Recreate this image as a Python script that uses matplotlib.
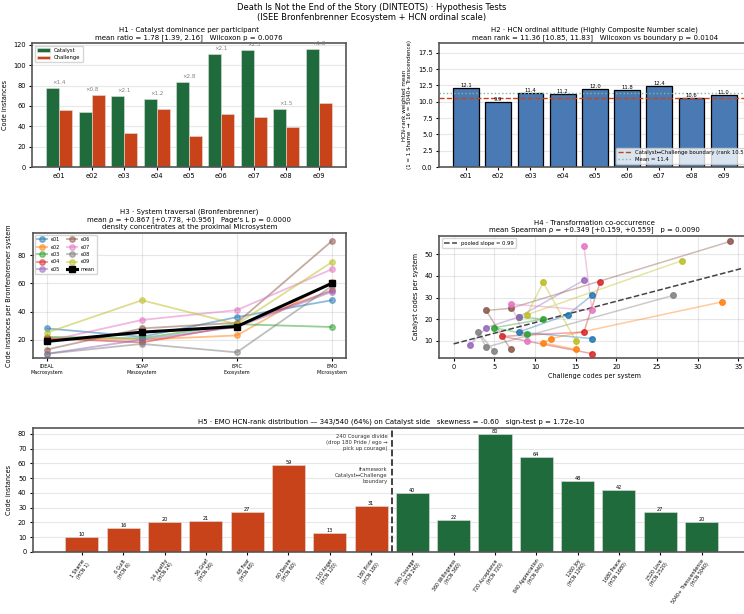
import numpy as np
import matplotlib
matplotlib.use('Agg')
from matplotlib import pyplot as plt

# participants and Bronfenbrenner systems
parts = ['e01', 'e02', 'e03', 'e04', 'e05', 'e06', 'e07', 'e08', 'e09']
systems = ['IDEAL\nMacrosystem', 'SOAP\nMesosystem', 'EPIC\nExosystem', 'EMO\nMicrosystem']

# codes per system (IDEAL, SOAP, EPIC, EMO) for each participant
cat_sys = np.array([
    [11, 14, 22, 31],
    [6, 9, 11, 28],
    [13, 16, 20, 21],
    [4, 12, 14, 37],
    [8, 16, 21, 38],
    [6, 24, 25, 56],
    [10, 27, 24, 54],
    [5, 14, 7, 31],
    [10, 37, 22, 47],
])
chal_sys = np.array([
    [17, 8, 14, 17],
    [15, 11, 12, 33],
    [9, 5, 11, 8],
    [17, 6, 16, 18],
    [2, 4, 8, 16],
    [7, 4, 7, 34],
    [9, 7, 17, 16],
    [5, 3, 4, 27],
    [15, 11, 9, 28],
])

# HCN weighted mean rank per participant
hcn_mean = [12.1, 9.9, 11.4, 11.2, 12.0, 11.8, 12.4, 10.6, 11.0]
boundary = 10.5

# EMO HCN-rank distribution
hcn_labels = ['1 Shame\n(HCN 1)', '6 Guilt\n(HCN 6)', '24 Apathy\n(HCN 24)', '36 Grief\n(HCN 36)',
              '48 Fear\n(HCN 48)', '60 Desire\n(HCN 60)', '120 Anger\n(HCN 120)', '180 Pride\n(HCN 180)',
              '240 Courage\n(HCN 240)', '360 Willingness\n(HCN 360)', '720 Acceptance\n(HCN 720)',
              '840 Appreciation\n(HCN 840)', '1260 Joy\n(HCN 1260)', '1680 Peace\n(HCN 1680)',
              '2520 Love\n(HCN 2520)', '5040+ Transcendence\n(HCN 5040)']
hcn_counts = [10, 16, 20, 21, 27, 59, 13, 31, 40, 22, 80, 64, 48, 42, 27, 20]

GREEN = '#1f6b3c'
RED = '#c8431a'
BLUE = '#4a7ab4'
TS = 5.0   # title size
LS = 4.7   # label size
KS = 4.8   # tick size
LEG = 3.8

plt.rcParams['font.family'] = 'DejaVu Sans'
plt.rcParams['axes.edgecolor'] = '#555555'
plt.rcParams['axes.linewidth'] = 1.2
plt.rcParams['xtick.labelsize'] = KS
plt.rcParams['ytick.labelsize'] = KS
plt.rcParams['xtick.major.size'] = 2.5
plt.rcParams['ytick.major.size'] = 2.5
plt.rcParams['xtick.major.pad'] = 2
plt.rcParams['ytick.major.pad'] = 2

fig = plt.figure(figsize=(7.44, 6.14), dpi=100)
fig.suptitle('Death Is Not the End of the Story (DINTEOTS) · Hypothesis Tests\n'
             '(ISEE Bronfenbrenner Ecosystem + HCN ordinal scale)', fontsize=6.0, y=0.995)

ax1 = fig.add_axes([0.043, 0.728, 0.422, 0.202])
ax2 = fig.add_axes([0.590, 0.728, 0.419, 0.202])
ax3 = fig.add_axes([0.044, 0.417, 0.421, 0.204])
ax4 = fig.add_axes([0.590, 0.417, 0.419, 0.199])
ax5 = fig.add_axes([0.044, 0.101, 0.965, 0.202])

# ---- H1
cat_tot = cat_sys.sum(axis=1)
chal_tot = chal_sys.sum(axis=1)
x = np.arange(len(parts))
ax1.bar(x - 0.2, cat_tot, 0.4, color=GREEN, label='Catalyst', edgecolor='#e0e0e0', linewidth=0.4)
ax1.bar(x + 0.2, chal_tot, 0.4, color=RED, label='Challenge', edgecolor='#e0e0e0', linewidth=0.4)
for i in range(len(parts)):
    ax1.text(x[i], max(cat_tot[i], chal_tot[i]) + 3, '×%.1f' % (cat_tot[i] / chal_tot[i]),
             ha='center', va='bottom', fontsize=4.0, color='gray')
ax1.set_xticks(x)
ax1.set_xticklabels(parts)
ax1.set_ylabel('Code instances', fontsize=LS)
ax1.set_title('H1 · Catalyst dominance per participant\n'
              'mean ratio = 1.78 [1.39, 2.16]   Wilcoxon p = 0.0076', fontsize=TS, pad=3)
ax1.legend(loc='upper left', fontsize=LEG, handlelength=2.5)
ax1.grid(axis='y', alpha=0.3)
ax1.set_axisbelow(True)

# ---- H2
b2 = ax2.bar(x, hcn_mean, 0.8, color=BLUE, edgecolor='black', linewidth=0.9)
ax2.bar_label(b2, labels=['%.1f' % v for v in hcn_mean], fontsize=3.8, padding=0)
ax2.axhline(boundary, color=RED, ls='--', lw=1.0, label='Catalyst↔Challenge boundary (rank 10.5)')
ax2.axhline(np.mean(hcn_mean), color='#7fb89a', ls=':', lw=1.0, label='Mean = %.1f' % np.mean(hcn_mean))
ax2.set_ylim(0, 19)
ax2.set_xticks(x)
ax2.set_xticklabels(parts)
ax2.set_ylabel('HCN-rank weighted mean\n(1 = 1 Shame  →  16 = 5040+ Transcendence)', fontsize=4.0)
ax2.set_title('H2 · HCN ordinal altitude (Highly Composite Number scale)\n'
              'mean rank = 11.36 [10.85, 11.83]   Wilcoxon vs boundary p = 0.0104', fontsize=TS, pad=3)
ax2.legend(loc='lower right', fontsize=LEG, handlelength=2.5)
ax2.grid(axis='y', alpha=0.3)
ax2.set_axisbelow(True)

# ---- H3
tot_sys = cat_sys + chal_sys
cmap = plt.get_cmap('tab10')
xs = np.arange(len(systems))
for i, p in enumerate(parts):
    ax3.plot(xs, tot_sys[i], '-o', color=cmap(i), alpha=0.5, lw=1.3, ms=4, label=p)
ax3.plot(xs, tot_sys.mean(axis=0), '-s', color='black', lw=2.2, ms=4.5, label='mean')
ax3.set_xticks(xs)
ax3.set_xticklabels(systems, fontsize=3.5)
ax3.set_ylim(7, 96)
ax3.set_yticks([20, 40, 60, 80])
ax3.set_ylabel('Code instances per Bronfenbrenner system', fontsize=LS)
ax3.set_title('H3 · System traversal (Bronfenbrenner)\n'
              "mean ρ = +0.867 [+0.778, +0.956]   Page's L p = 0.0000\n"
              'density concentrates at the proximal Microsystem', fontsize=TS, pad=3)
ax3.legend(loc='upper left', ncol=2, fontsize=3.5, handlelength=2.0, columnspacing=1.5)
ax3.grid(alpha=0.3)

# ---- H4
for i, p in enumerate(parts):
    ax4.plot(chal_sys[i], cat_sys[i], '-', color=cmap(i), alpha=0.4, lw=1.1)
    ax4.scatter(chal_sys[i], cat_sys[i], color=cmap(i), alpha=0.85, s=16, zorder=3)
slope, icpt = np.polyfit(chal_sys.ravel(), cat_sys.ravel(), 1)
xl = np.array([0, 35.5])
ax4.plot(xl, icpt + slope * xl, '--', color='#444444', lw=1.1, label='pooled slope = %.2f' % slope)
ax4.set_xlim(-1.8, 36.5)
ax4.set_ylim(2, 58.6)
ax4.set_xlabel('Challenge codes per system', fontsize=LS, labelpad=2)
ax4.set_ylabel('Catalyst codes per system', fontsize=LS)
ax4.set_title('H4 · Transformation co-occurrence\n'
              'mean Spearman ρ = +0.349 [+0.159, +0.559]   p = 0.0090', fontsize=TS, pad=3)
ax4.legend(loc='upper left', fontsize=LEG, handlelength=2.5)
ax4.grid(alpha=0.3)

# ---- H5
xh = np.arange(len(hcn_labels))
cols = [RED] * 8 + [GREEN] * 8
b5 = ax5.bar(xh, hcn_counts, 0.8, color=cols, edgecolor='#e0e0e0', linewidth=0.4)
ax5.bar_label(b5, fontsize=3.6, padding=0)
ax5.axvline(7.5, color='#333333', ls='--', lw=1.3)
ax5.text(7.4, 74, '240 Courage divide\n(drop 180 Pride / ego →\npick up courage)',
         ha='right', va='center', fontsize=3.8, color='#333333')
ax5.text(7.4, 52, 'framework\nCatalyst↔Challenge\nboundary',
         ha='right', va='center', fontsize=3.8, color='#333333')
ax5.set_xticks(xh)
ax5.set_xticklabels(hcn_labels, rotation=55, ha='right', fontsize=3.4, rotation_mode='anchor')
ax5.set_ylabel('Code instances', fontsize=LS)
ax5.set_title('H5 · EMO HCN-rank distribution — 343/540 (64%) on Catalyst side   '
              'skewness = -0.60   sign-test p = 1.72e-10', fontsize=TS, pad=3)
ax5.grid(axis='y', alpha=0.3)
ax5.set_axisbelow(True)

fig.savefig('out.png', dpi=100)
